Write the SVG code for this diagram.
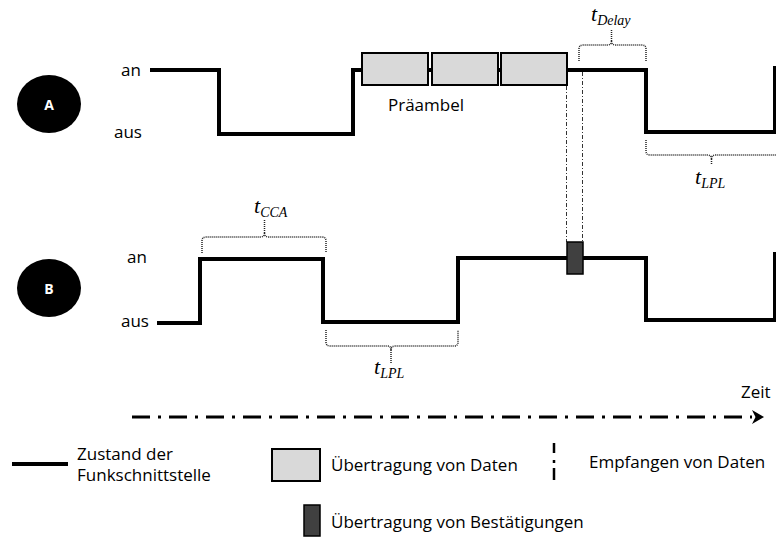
<svg xmlns="http://www.w3.org/2000/svg" width="776" height="538" viewBox="0 0 776 538">
  <defs>
    <style>
      .lbl { font-family: "Open Sans", "Noto Sans", sans-serif; font-size: 17px; fill: #000; }
      .node-letter { font-family: "Open Sans", "Noto Sans", sans-serif; font-size: 14px; font-weight: bold; fill: #fff; text-anchor: middle; }
      .math { font-family: "Liberation Serif", "DejaVu Serif", serif; font-style: italic; fill: #000; }
      .math .t { font-size: 22px; }
      .math .sub { font-size: 14px; }
      .signal { fill: none; stroke: #000; stroke-width: 4; stroke-linejoin: miter; }
      .brace { fill: none; stroke: #222; stroke-width: 1.5; stroke-dasharray: 1 1; }
      .rx { fill: none; stroke: #333; stroke-width: 1; stroke-dasharray: 4 2 1 2; }
      .data { fill: #d9d9d9; stroke: #000; stroke-width: 2; }
      .ack { fill: #404040; stroke: #000; stroke-width: 1.5; }
      .axis { fill: none; stroke: #000; stroke-width: 3; stroke-dasharray: 18 8 3 8; }
    </style>
  </defs>
  <rect width="776" height="538" fill="#fff"/>

  <!-- station A -->
  <g id="node-A">
    <ellipse cx="49" cy="104" rx="32" ry="29" fill="#000"/>
    <text class="node-letter" x="49" y="110">A</text>
    <text class="lbl" x="121" y="76">an</text>
    <text class="lbl" x="114" y="138">aus</text>
  </g>

  <!-- station B -->
  <g id="node-B">
    <ellipse cx="49" cy="288" rx="32" ry="29" fill="#000"/>
    <text class="node-letter" x="49" y="294">B</text>
    <text class="lbl" x="127" y="263">an</text>
    <text class="lbl" x="121" y="327">aus</text>
  </g>

  <!-- radio state lines, reception markers and timing braces -->
  <g id="connectors">
    <path class="signal" d="M150,70 H219 V134 H353 V70 H646 V132 H775 V66"/>
    <path class="signal" d="M157,323 H200 V259 H323 V322 H458 V258 H646 V320 H775 V252"/>

    <line class="rx" x1="566.5" y1="86" x2="566.5" y2="242"/>
    <line class="rx" x1="582.5" y1="72" x2="582.5" y2="242"/>

    <!-- t_Delay -->
    <path class="brace" d="M579,61 V49 Q579,45 583,45 H607 Q611.5,45 611.5,41 M611.5,41 Q611.5,45 616,45 H642 Q646,45 646,49 V61 M611.5,41 V29"/>
    <!-- t_LPL of A -->
    <path class="brace" d="M646,140 V151 Q646,155 650,155 H707 Q711.5,155 711.5,159 M711.5,159 Q711.5,155 716,155 H780 M711.5,159 V164"/>
    <!-- t_CCA -->
    <path class="brace" d="M202,253 V241 Q202,237 206,237 H260 Q264.5,237 264.5,233 M264.5,233 Q264.5,237 269,237 H322 Q326,237 326,241 V253 M264.5,233 V220"/>
    <!-- t_LPL of B -->
    <path class="brace" d="M326,330 V342 Q326,346 330,346 H387 Q391,346 391,350 M391,350 Q391,346 395,346 H454 Q458,346 458,342 V330 M391,350 V363"/>
  </g>

  <!-- preamble frames of A -->
  <g id="preamble">
    <rect class="data" x="362" y="53" width="66" height="32"/>
    <rect class="data" x="432" y="53" width="66" height="32"/>
    <rect class="data" x="501" y="53" width="66" height="32"/>
    <text class="lbl" x="388" y="111">Präambel</text>
  </g>

  <!-- acknowledgement of B -->
  <g id="ack">
    <rect class="ack" x="567" y="242" width="16" height="32"/>
  </g>

  <!-- timing labels -->
  <g id="timing-labels">
    <text class="math" x="591" y="21"><tspan class="t">t</tspan><tspan class="sub" dy="4">Delay</tspan></text>
    <text class="math" x="695" y="184"><tspan class="t">t</tspan><tspan class="sub" dy="4">LPL</tspan></text>
    <text class="math" x="254" y="213"><tspan class="t">t</tspan><tspan class="sub" dy="4">CCA</tspan></text>
    <text class="math" x="374" y="374"><tspan class="t">t</tspan><tspan class="sub" dy="4">LPL</tspan></text>
  </g>

  <!-- time axis -->
  <g id="time-axis">
    <line class="axis" x1="132" y1="417" x2="752" y2="417"/>
    <path d="M752,410 L764,417 L752,424 L755.5,417 Z" fill="#000"/>
    <text class="lbl" x="741" y="398">Zeit</text>
  </g>

  <!-- legend -->
  <g id="legend">
    <line x1="12" y1="464" x2="68" y2="464" stroke="#000" stroke-width="4"/>
    <text class="lbl" x="77" y="460">Zustand der</text>
    <text class="lbl" x="77" y="481">Funkschnittstelle</text>

    <rect class="data" x="272" y="449" width="48" height="32"/>
    <text class="lbl" x="331" y="471">Übertragung von Daten</text>

    <path d="M554,443 V453 M554,460 V463 M554,468 V480" stroke="#000" stroke-width="2.5" fill="none"/>
    <text class="lbl" x="589" y="468">Empfangen von Daten</text>

    <rect class="ack" x="304" y="505" width="16" height="31"/>
    <text class="lbl" x="331" y="528">Übertragung von Bestätigungen</text>
  </g>
</svg>
